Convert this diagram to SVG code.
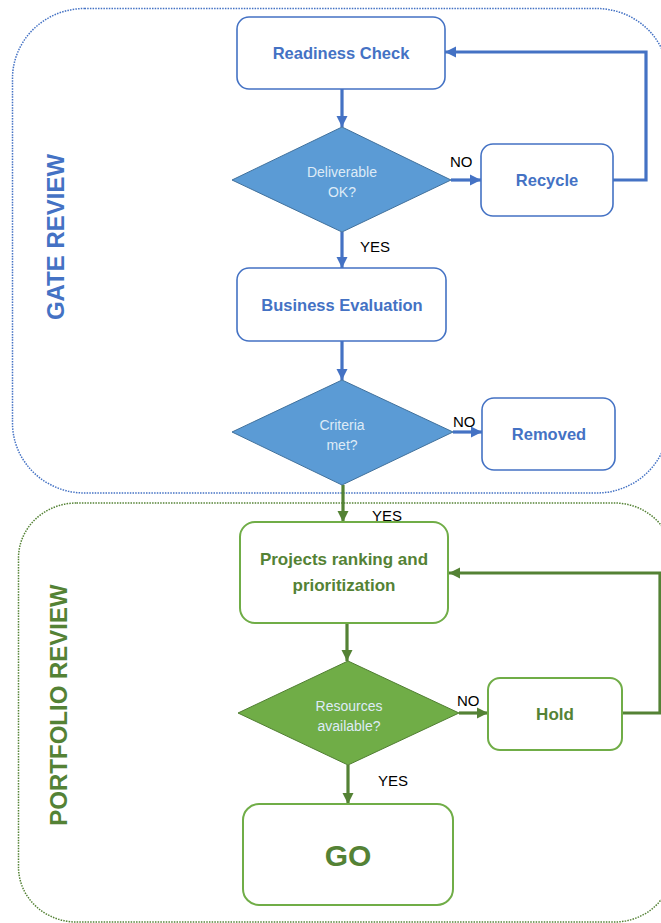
<svg xmlns="http://www.w3.org/2000/svg" width="661" height="923" viewBox="0 0 661 923">
<style>
text{font-family:"Liberation Sans",Arial,sans-serif;}
.lane-blue{fill:none;stroke:#4472c4;stroke-width:1.5;stroke-dasharray:1.5 1.2;}
.lane-green{fill:none;stroke:#548235;stroke-width:1.5;stroke-dasharray:1.5 1.2;}
.lane-title{font-size:24px;font-weight:bold;text-anchor:middle;}
.box-b{fill:#fff;stroke:#4472c4;stroke-width:1.6;}
.box-g{fill:#fff;stroke:#70ad47;stroke-width:2;}
.dia-b{fill:#5b9bd5;stroke:#41719c;stroke-width:1;}
.dia-g{fill:#70ad47;stroke:#507e32;stroke-width:1;}
.t-b{fill:#4472c4;font-size:16.5px;font-weight:bold;text-anchor:middle;}
.t-g{fill:#548235;font-size:17px;font-weight:bold;text-anchor:middle;}
.t-d{fill:#deebf7;font-size:14px;text-anchor:middle;}
.lbl{fill:#000;font-size:15px;}
.c-b{fill:none;stroke:#4472c4;stroke-width:3.2;marker-end:url(#ab);}
.c-g{fill:none;stroke:#548235;stroke-width:3.2;marker-end:url(#ag);}
</style>
<defs>
<marker id="ab" markerUnits="userSpaceOnUse" markerWidth="12" markerHeight="12" viewBox="0 0 12 12" refX="11" refY="6" orient="auto">
<path d="M0,0.5 L11,6 L0,11.5 Z" fill="#4472c4"/>
</marker>
<marker id="ag" markerUnits="userSpaceOnUse" markerWidth="12" markerHeight="12" viewBox="0 0 12 12" refX="11" refY="6" orient="auto">
<path d="M0,0.5 L11,6 L0,11.5 Z" fill="#548235"/>
</marker>
</defs>

<g id="lane-gate">
<rect class="lane-blue" x="12.5" y="8.5" width="656" height="484.5" rx="72" ry="70"/>
<text class="lane-title" fill="#4472c4" transform="translate(64,237) rotate(-90)">GATE REVIEW</text>
</g>
<g id="lane-portfolio">
<rect class="lane-green" x="18.5" y="503" width="654" height="419" rx="58" ry="55"/>
<text class="lane-title" fill="#548235" transform="translate(67,705) rotate(-90)">PORTFOLIO REVIEW</text>
</g>

<g id="connectors">
<path class="c-b" d="M342,89 V127"/>
<path class="c-b" d="M451,180 H481"/>
<path class="c-b" d="M613,180 H646 V52 H445"/>
<path class="c-b" d="M342,232 V268"/>
<path class="c-b" d="M342,341 V380"/>
<path class="c-b" d="M453,432 H482"/>
<path class="c-g" d="M343,485 V522"/>
<path class="c-g" d="M347,623 V661"/>
<path class="c-g" d="M459,713 H488"/>
<path class="c-g" d="M622,713 H660 V573 H449"/>
<path class="c-g" d="M348,765 V804"/>
<text class="lbl" x="450" y="167">NO</text>
<text class="lbl" x="360" y="252">YES</text>
<text class="lbl" x="453" y="427">NO</text>
<text class="lbl" x="372" y="521">YES</text>
<text class="lbl" x="457" y="706">NO</text>
<text class="lbl" x="378" y="786">YES</text>
</g>

<g id="readiness-check">
<rect class="box-b" x="237" y="17" width="208" height="72" rx="12"/>
<text class="t-b" x="341" y="59">Readiness Check</text>
</g>
<g id="deliverable-ok">
<polygon class="dia-b" points="342,127 451,180 342,232 232,180"/>
<text class="t-d" x="342" y="177">Deliverable</text>
<text class="t-d" x="342" y="197">OK?</text>
</g>
<g id="recycle">
<rect class="box-b" x="481" y="144" width="132" height="72" rx="12"/>
<text class="t-b" x="547" y="186">Recycle</text>
</g>
<g id="business-evaluation">
<rect class="box-b" x="237" y="268" width="209" height="73" rx="12"/>
<text class="t-b" x="342" y="311">Business Evaluation</text>
</g>
<g id="criteria-met">
<polygon class="dia-b" points="342,380 453,432 342,485 232,432"/>
<text class="t-d" x="342" y="430">Criteria</text>
<text class="t-d" x="342" y="450">met?</text>
</g>
<g id="removed">
<rect class="box-b" x="482" y="398" width="133" height="72" rx="12"/>
<text class="t-b" x="549" y="440">Removed</text>
</g>
<g id="projects-ranking">
<rect class="box-g" x="240" y="522" width="208" height="101" rx="15"/>
<text class="t-g" x="344" y="565">Projects ranking and</text>
<text class="t-g" x="344" y="591">prioritization</text>
</g>
<g id="resources-available">
<polygon class="dia-g" points="348,661 459,713 348,765 238,713"/>
<text class="t-d" x="349" y="711">Resources</text>
<text class="t-d" x="349" y="731">available?</text>
</g>
<g id="hold">
<rect class="box-g" x="488" y="678" width="134" height="72" rx="12"/>
<text class="t-g" x="555" y="720">Hold</text>
</g>
<g id="go">
<rect class="box-g" x="243" y="804" width="210" height="101" rx="16"/>
<text class="t-g" x="348" y="866" style="font-size:30px">GO</text>
</g>
</svg>
